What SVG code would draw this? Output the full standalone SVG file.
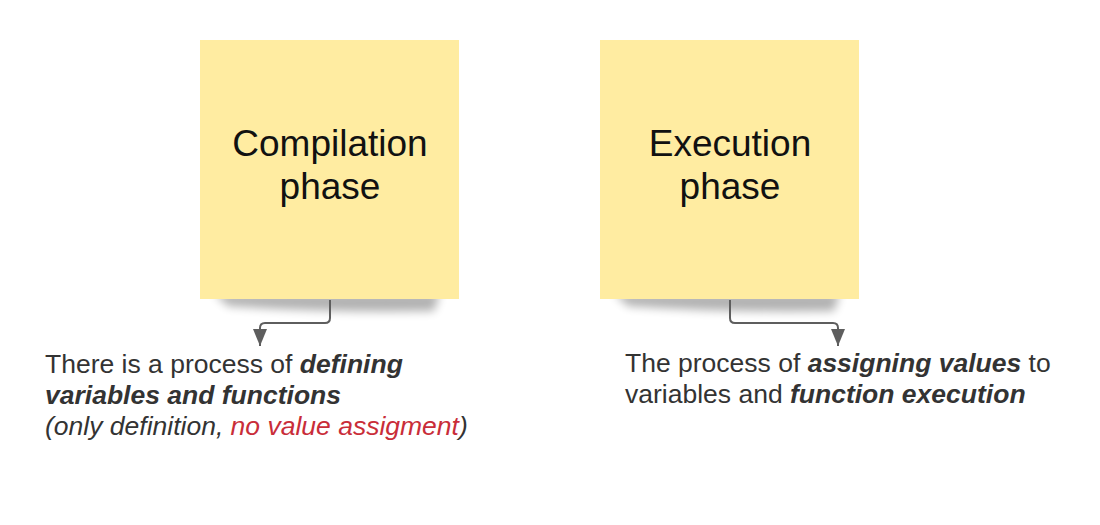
<svg xmlns="http://www.w3.org/2000/svg" width="1100" height="525" viewBox="0 0 1100 525">
  <defs>
    <filter id="shadow" x="-20%" y="-100%" width="140%" height="300%">
      <feGaussianBlur stdDeviation="5"/>
    </filter>
    <marker id="arrow" markerWidth="18" markerHeight="14" refX="17" refY="7" orient="auto" markerUnits="userSpaceOnUse" viewBox="0 0 18 14">
      <path d="M0,0 L17,7 L0,14 Z" fill="#5e5e5e"/>
    </marker>
  </defs>
  <style>
    .note { fill: #ffeca1; }
    .shadow { fill: #000; opacity: 0.3; filter: url(#shadow); }
    .title { font-family: "Liberation Sans", Arial, sans-serif; font-size: 37px; fill: #111; text-anchor: middle; }
    .body { font-family: "Liberation Sans", Arial, sans-serif; font-size: 26.5px; fill: #333; }
    .bi { font-weight: bold; font-style: italic; }
    .it { font-style: italic; }
    .red { fill: #c92d39; }
    .conn { fill: none; stroke: #5e5e5e; stroke-width: 2; }
  </style>
  <rect width="1100" height="525" fill="#ffffff"/>

  <g id="compilation">
    <path class="shadow" d="M214,293 L440,293 L434,311 Q330,313 228,306 Z"/>
    <rect class="note" x="200" y="40" width="259" height="259"/>
    <text class="title" x="330" y="156">Compilation</text>
    <text class="title" x="330" y="199">phase</text>
  </g>

  <g id="execution">
    <path class="shadow" d="M614,293 L840,293 L834,311 Q730,313 628,306 Z"/>
    <rect class="note" x="600" y="40" width="259" height="259"/>
    <text class="title" x="730" y="156">Execution</text>
    <text class="title" x="730" y="199">phase</text>
  </g>

  <g id="connectors">
    <path class="conn" d="M330,300 L330,318 Q330,323 325,323 L265,323 Q260,323 260,328 L260,346" marker-end="url(#arrow)"/>
    <path class="conn" d="M730,300 L730,318 Q730,323 735,323 L833,323 Q838,323 838,328 L838,346" marker-end="url(#arrow)"/>
  </g>

  <g id="compilation-text">
    <text class="body" x="45" y="373">There is a process of <tspan class="bi">defining</tspan></text>
    <text class="body" x="45" y="404"><tspan class="bi">variables and functions</tspan></text>
    <text class="body it" x="45" y="435">(only definition, <tspan class="red">no value assigment</tspan>)</text>
  </g>

  <g id="execution-text">
    <text class="body" x="625" y="372">The process of <tspan class="bi">assigning values</tspan> to</text>
    <text class="body" x="625" y="403">variables and <tspan class="bi">function execution</tspan></text>
  </g>
</svg>
